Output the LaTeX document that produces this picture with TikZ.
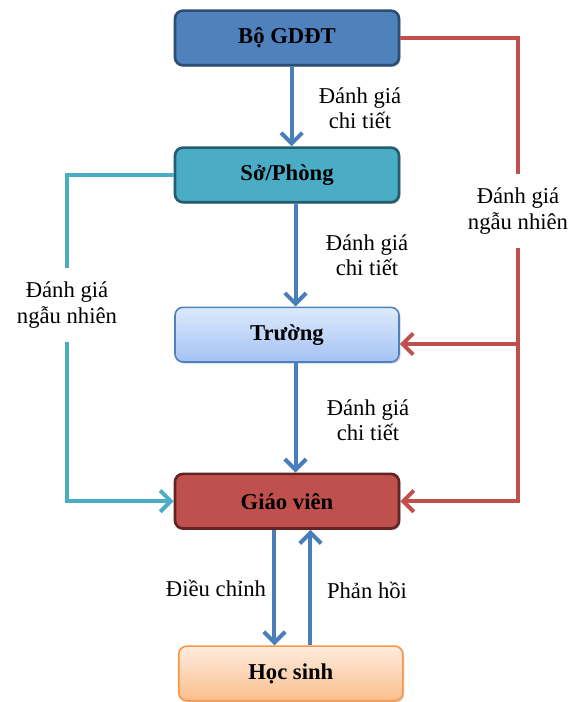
\documentclass[tikz,border=0pt]{standalone}
\usepackage{fontspec}
\setmainfont{Liberation Serif}
\usetikzlibrary{arrows.meta,shadows}

\definecolor{boblue}{RGB}{79,129,189}
\definecolor{boedge}{RGB}{44,77,117}
\definecolor{soteal}{RGB}{75,172,198}
\definecolor{soedge}{RGB}{35,94,110}
\definecolor{trtop}{RGB}{222,234,252}
\definecolor{trbot}{RGB}{164,194,244}
\definecolor{gvred}{RGB}{192,80,77}
\definecolor{gvedge}{RGB}{99,37,35}
\definecolor{hstop}{RGB}{253,236,222}
\definecolor{hsbot}{RGB}{250,190,140}
\definecolor{hsedge}{RGB}{247,150,70}
\definecolor{flowblue}{RGB}{74,126,187}

\newcommand{\txtfont}{\fontsize{17}{19}\selectfont}

\tikzset{
  box/.style={draw, rounded corners=6pt, minimum width=168pt, minimum height=41pt,
    line width=2pt, font=\txtfont\bfseries,
    drop shadow={shadow xshift=1.2pt,shadow yshift=-1.2pt,opacity=0.35}},
  lbl/.style={font=\txtfont, align=center},
  tip/.style={-{Straight Barb[length=8pt,width=16pt]}},
  flow/.style={draw=flowblue, line width=3pt, tip},
  redline/.style={draw=gvred, line width=3pt},
  tealline/.style={draw=soteal, line width=3pt}
}

\begin{document}
\begin{tikzpicture}[x=0.75pt,y=-0.75pt]
  \useasboundingbox (0,0) rectangle (574,702);

  \node[box, fill=boblue, draw=boedge] (bo) at (287,38) {Bộ GDĐT};
  \node[box, fill=soteal, draw=soedge, below of=bo, yshift=-2.61cm] (so) {Sở/Phòng};
  \node[box, top color=trtop, bottom color=trbot, draw=boblue, line width=1.2pt,
    below of=so, yshift=-3.21cm] (truong) {Trường};
  \node[box, fill=gvred, draw=gvedge, below of=truong, yshift=-3.39cm] (gv) {Giáo viên};
  \node[box, top color=hstop, bottom color=hsbot, draw=hsedge, line width=1.2pt,
    below of=gv, yshift=-3.54cm, xshift=0.1cm] (hs) {Học sinh};

  % nhan
  \node[lbl] (l1) at (360,108) {Đánh giá\\chi tiết};
  \node[lbl] (l2) at (367,255) {Đánh giá\\chi tiết};
  \node[lbl] (l3) at (368,420) {Đánh giá\\chi tiết};
  \node[lbl] (l4) at (216,588) {Điều chỉnh};
  \node[lbl] (l5) at (367,590) {Phản hồi};
  \node[lbl, inner ysep=10pt] (lr) at (518,211) {Đánh giá\\ngẫu nhiên};
  \node[lbl, inner ysep=10pt] (lt) at (67,305) {Đánh giá\\ngẫu nhiên};

  % chi tiet
  \draw[flow] ([xshift=3.5pt]bo.south) -- ([xshift=3.5pt]so.north);
  \draw[flow] ([xshift=6.4pt]so.south) -- ([xshift=6.4pt]truong.north);
  \draw[flow] ([xshift=6.4pt]truong.south) -- ([xshift=6.4pt]gv.north);

  \coordinate (dn) at ([xshift=-9.4pt]gv.south);
  \coordinate (up) at ([xshift=17.6pt]gv.south);
  \draw[flow] (dn) -- (dn |- hs.north);
  \draw[flow] (up |- hs.north) -- (up);

  % ngau nhien
  \coordinate (tr) at ([yshift=-7pt]truong.east);
  \draw[redline] (bo.east) -| (lr.north);
  \draw[redline, tip] (lr.south) |- (gv.east);
  \draw[redline, tip] (lr.south |- tr) -- (tr);

  \draw[tealline] (so.west) -| (lt.north);
  \draw[tealline, tip] (lt.south) |- (gv.west);
\end{tikzpicture}
\end{document}
